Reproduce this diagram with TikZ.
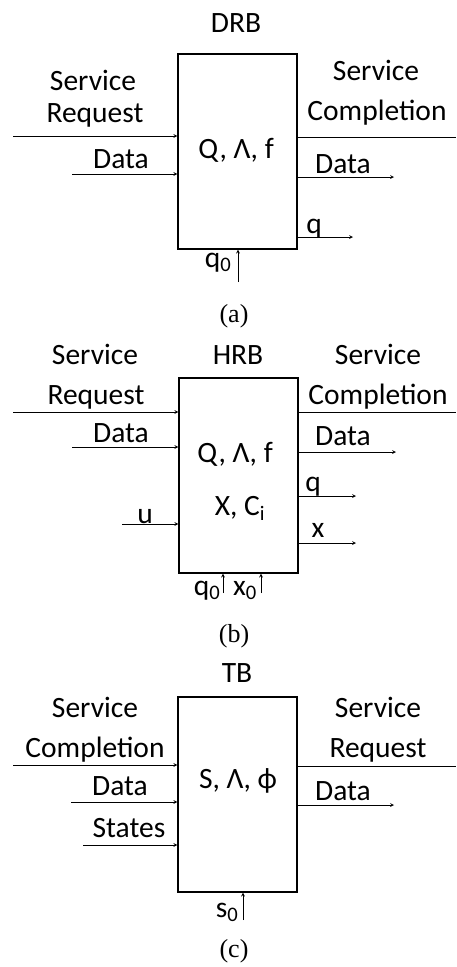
\documentclass[tikz,border=0pt]{standalone}
\usepackage{fontspec}
\setmainfont{Carlito}
\newfontfamily\capfont{Liberation Serif}
\usetikzlibrary{positioning}

\begin{document}
\begin{tikzpicture}[x=1pt, y=-1pt,
  block/.style={draw, line width=1.4pt, minimum width=119pt,
                minimum height=195pt, inner sep=0pt},
  lbl/.style={font=\fontsize{29.5}{32}\selectfont, anchor=base, inner sep=0pt},
  captxt/.style={font=\capfont\fontsize{26}{28}\selectfont, anchor=base, inner sep=0pt},
  arr/.style={->, >=stealth, line width=0.7pt},
  wire/.style={line width=0.7pt},
]
\useasboundingbox (0,0) rectangle (456,967);

% ---- (a) DRB ----
\node[block] (drb) at (237.5,151.5) {};
\node[lbl] (drbname) at (236,32) {DRB};
\node[lbl] (drbpar) at (236,158) {Q, Λ, f};
\node[lbl] (drbsv) at (93,90) {Service};
\node[lbl] (drbrq) at (95,122) {Request};
\node[lbl] (drbdi) at (121,168) {Data};
\node[lbl] (drbsv2) at (376,80) {Service};
\node[lbl] (drbcp) at (377,120) {Completion};
\node[lbl] (drbdo) at (343,173) {Data};
\node[lbl] (drbq) at (314,233) {q};
\node[lbl] (drbq0) at (218,267) {q\textsubscript{0}};
\node[captxt] (capa) at (234,322) {(a)};

\coordinate (a1) at (13,136);
\coordinate (a2) at (72,174);
\coordinate (a3) at (456,137);
\coordinate (a4) at (394,177);
\coordinate (a5) at (353,237);
\coordinate (a6) at (238,282);
\draw[arr] (a1) -- (a1 -| drb.west);
\draw[arr] (a2) -- (a2 -| drb.west);
\draw[wire] (a3 -| drb.east) -- (a3);
\draw[arr] (a4 -| drb.east) -- (a4);
\draw[arr] (a5 -| drb.east) -- (a5);
\draw[arr] (a6) -- (a6 |- drb.south);

% ---- (b) HRB ----
\node[block] (hrb) at (238.5,475.5) {};
\node[lbl] (hrbname) at (238,364) {HRB};
\node[lbl] (hrbpar) at (235,462) {Q, Λ, f};
\node[lbl] (hrbst) at (240,515) {X, C\textsubscript{i}};
\node[lbl] (hrbsv) at (95,364) {Service};
\node[lbl] (hrbrq) at (96,404) {Request};
\node[lbl] (hrbdi) at (121,442) {Data};
\node[lbl] (hrbu) at (145,523) {u};
\node[lbl] (hrbsv2) at (378,364) {Service};
\node[lbl] (hrbcp) at (378,404) {Completion};
\node[lbl] (hrbdo) at (343,445) {Data};
\node[lbl] (hrbq) at (313,491) {q};
\node[lbl] (hrbx) at (318,537) {x};
\node[lbl] (hrbq0) at (207,595) {q\textsubscript{0}};
\node[lbl] (hrbx0) at (245,595) {x\textsubscript{0}};
\node[captxt] (capb) at (234,642) {(b)};

\coordinate (b1) at (13,412);
\coordinate (b2) at (72,447);
\coordinate (b3) at (122,524);
\coordinate (b4) at (456,412);
\coordinate (b5) at (396,452);
\coordinate (b6) at (356,496);
\coordinate (b7) at (356,543);
\coordinate (b8) at (223,593);
\coordinate (b9) at (261,593);
\draw[arr] (b1) -- (b1 -| hrb.west);
\draw[arr] (b2) -- (b2 -| hrb.west);
\draw[arr] (b3) -- (b3 -| hrb.west);
\draw[wire] (b4 -| hrb.east) -- (b4);
\draw[arr] (b5 -| hrb.east) -- (b5);
\draw[arr] (b6 -| hrb.east) -- (b6);
\draw[arr] (b7 -| hrb.east) -- (b7);
\draw[arr] (b8) -- (b8 |- hrb.south);
\draw[arr] (b9) -- (b9 |- hrb.south);

% ---- (c) TB ----
\node[block] (tb) at (237.5,794.5) {};
\node[lbl] (tbname) at (237,682) {TB};
\node[lbl] (tbpar) at (238,788) {S, Λ, ϕ};
\node[lbl] (tbsv) at (95,717) {Service};
\node[lbl] (tbcp) at (95,757) {Completion};
\node[lbl] (tbdi) at (120,795) {Data};
\node[lbl] (tbst) at (129,837) {States};
\node[lbl] (tbsv2) at (378,717) {Service};
\node[lbl] (tbrq) at (378,757) {Request};
\node[lbl] (tbdo) at (343,800) {Data};
\node[lbl] (tbs0) at (227,917) {s\textsubscript{0}};
\node[captxt] (capc) at (234,957) {(c)};

\coordinate (c1) at (13,765);
\coordinate (c2) at (71,802);
\coordinate (c3) at (83,845);
\coordinate (c4) at (456,766);
\coordinate (c5) at (394,805);
\coordinate (c6) at (243,920);
\draw[arr] (c1) -- (c1 -| tb.west);
\draw[arr] (c2) -- (c2 -| tb.west);
\draw[arr] (c3) -- (c3 -| tb.west);
\draw[wire] (c4 -| tb.east) -- (c4);
\draw[arr] (c5 -| tb.east) -- (c5);
\draw[arr] (c6) -- (c6 |- tb.south);

\end{tikzpicture}
\end{document}
